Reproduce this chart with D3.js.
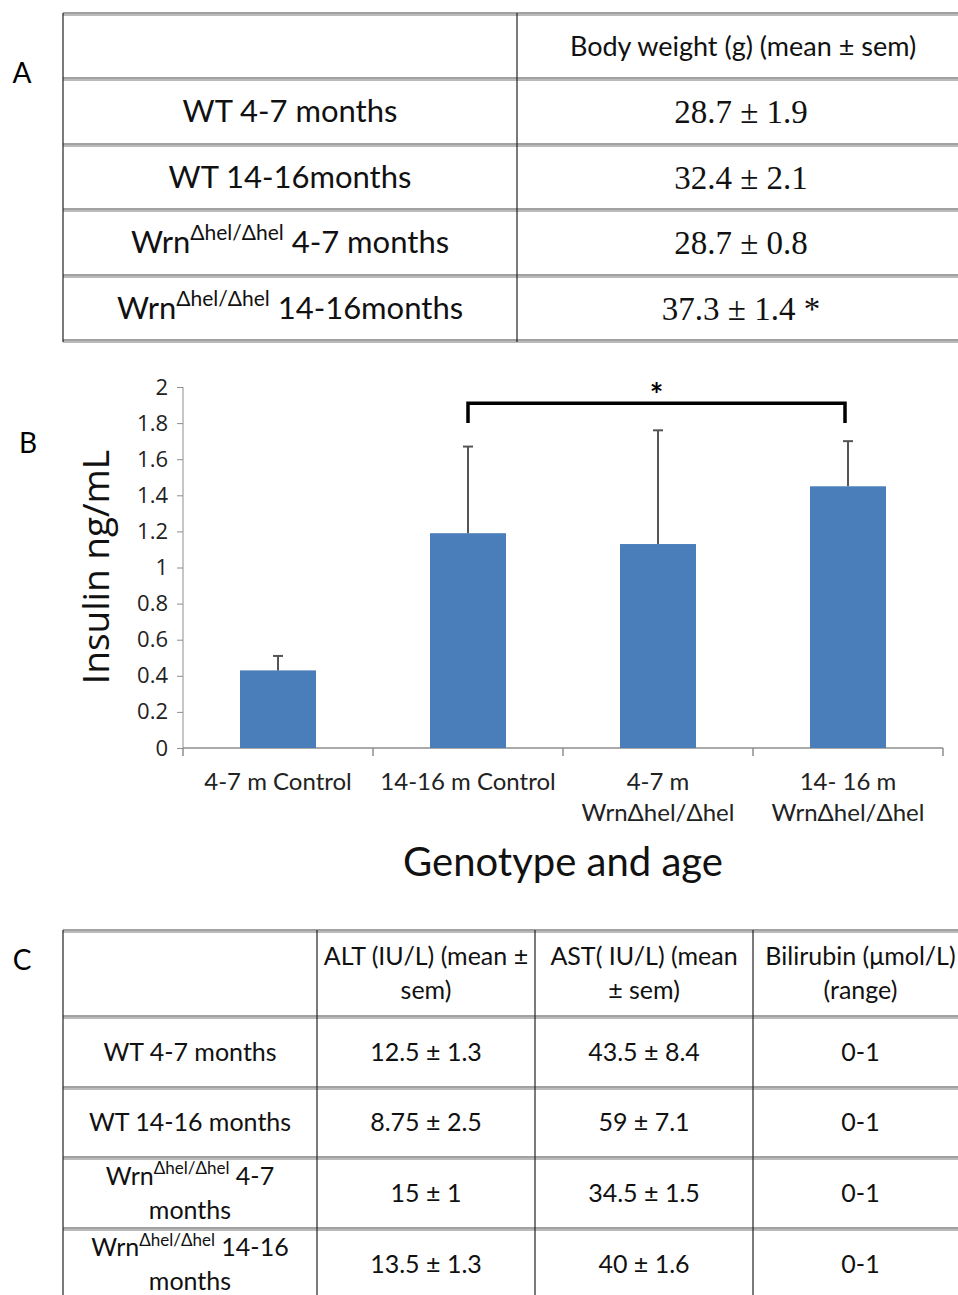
<!DOCTYPE html>
<html>
<head>
<meta charset="utf-8">
<script src="https://cdn.jsdelivr.net/npm/d3@7"></script>
<style>
  body { margin: 0; background: #fff; }
  svg { display: block; }
</style>
</head>
<body>
<svg id="fig" width="958" height="1295"></svg>
<script>
// ---- data ----
// {..} marks superscript text
var groupsA = ["WT 4-7 months", "WT 14-16months", "Wrn{Δhel/Δhel} 4-7 months", "Wrn{Δhel/Δhel} 14-16months"];
var headerA = "Body weight (g) (mean ± sem)";
var bodyWeight = ["28.7 ± 1.9", "32.4 ± 2.1", "28.7 ± 0.8", "37.3 ± 1.4 *"];

var categories = [["4-7 m Control"], ["14-16 m Control"], ["4-7 m", "WrnΔhel/Δhel"], ["14- 16 m", "WrnΔhel/Δhel"]];
var insulin = [0.43, 1.19, 1.13, 1.45];
var insulinSem = [0.08, 0.48, 0.63, 0.25];
var yTicks = [0, 0.2, 0.4, 0.6, 0.8, 1, 1.2, 1.4, 1.6, 1.8, 2];
var bracket = {from: 1, to: 3, level: 1.91, drop: 0.11, label: "*"};

var headerC = [[""], ["ALT (IU/L) (mean ±", "sem)"], ["AST( IU/L)  (mean", "± sem)"], ["Bilirubin (μmol/L)", "(range)"]];
var groupsC = [["WT 4-7 months"], ["WT 14-16 months"], ["Wrn{Δhel/Δhel} 4-7", "months"], ["Wrn{Δhel/Δhel} 14-16", "months"]];
var alt = ["12.5 ± 1.3", "8.75 ± 2.5", "15 ± 1", "13.5 ± 1.3"];
var ast = ["43.5 ± 8.4", "59 ± 7.1", "34.5 ± 1.5", "40 ± 1.6"];
var bilirubin = ["0-1", "0-1", "0-1", "0-1"];

var svg = d3.select('#fig');
var sans = "Lato, 'Open Sans', sans-serif";

// writes a string with {sup} parts into a text element
var richText = function(sel, str, supSize) {
  var parts = str.split(/(\{[^}]*\})/).filter(function(p){return p.length;});
  var shift = 0;
  parts.forEach(function(p) {
    if (p[0] == '{') {
      sel.append('tspan').attr('dy', -supSize * 0.6).attr('font-size', supSize).text(p.slice(1, -1));
      shift = supSize * 0.6;
    } else {
      sel.append('tspan').attr('dy', shift).text(p);
      shift = 0;
    }
  });
};

var hline = function(g, x1, x2, y) {
  g.append('line').attr('x1', x1).attr('x2', x2).attr('y1', y).attr('y2', y)
    .attr('stroke', '#444').attr('stroke-width', 1);
  g.append('line').attr('x1', x1).attr('x2', x2).attr('y1', y + 2).attr('y2', y + 2)
    .attr('stroke', '#777').attr('stroke-width', 1);
};
var vline = function(g, x, y1, y2) {
  g.append('line').attr('x1', x).attr('x2', x).attr('y1', y1).attr('y2', y2)
    .attr('stroke', '#222').attr('stroke-width', 1.2);
};

// ---- panel A ----
var tA = svg.append('g');
var rowsA = [13, 78, 144, 209, 275, 340];
rowsA.forEach(function(y){ hline(tA, 63, 958, y); });
vline(tA, 63, 13, 342);
vline(tA, 517, 13, 342);

svg.append('text').attr('x', 22).attr('y', 83).attr('text-anchor', 'middle')
  .attr('font-family', sans).attr('font-size', 28).text('A');

tA.append('text').attr('x', 743).attr('y', 56).attr('text-anchor', 'middle')
  .attr('font-family', sans).attr('font-size', 27).attr('fill', '#111').text(headerA);

tA.selectAll('text.lab').data(groupsA).enter().append('text')
  .attr('class', 'lab')
  .attr('x', 290)
  .attr('y', function(d, i){ return (rowsA[i + 1] + rowsA[i + 2]) / 2 + 11; })
  .attr('text-anchor', 'middle')
  .attr('font-family', sans).attr('font-size', 31).attr('fill', '#111')
  .each(function(d){ richText(d3.select(this), d, 21); });

tA.selectAll('text.val').data(bodyWeight).enter().append('text')
  .attr('class', 'val')
  .attr('x', 741)
  .attr('y', function(d, i){ return (rowsA[i + 1] + rowsA[i + 2]) / 2 + 12; })
  .attr('text-anchor', 'middle')
  .attr('font-family', "'Liberation Serif', serif").attr('font-size', 33).attr('fill', '#111')
  .text(function(d){ return d; });

// ---- panel B ----
svg.append('text').attr('x', 28).attr('y', 453).attr('text-anchor', 'middle')
  .attr('font-family', sans).attr('font-size', 28).text('B');

var chart = svg.append('g');
var x = d3.scaleBand().domain(d3.range(categories.length)).range([183, 943])
  .paddingInner(0.6).paddingOuter(0.3);
var y = d3.scaleLinear().domain([0, 2]).range([748, 387]);
var axisColor = '#8e8e8e';

var yAxis = chart.append('g').attr('transform', 'translate(183,0)')
  .call(d3.axisLeft(y).tickValues(yTicks).tickSize(6).tickPadding(9).tickFormat(d3.format('~g')));
yAxis.selectAll('path, line').attr('stroke', axisColor);
yAxis.select('.domain').attr('d', 'M0,' + y(0) + 'V' + y(2));
yAxis.selectAll('text').attr('font-family', "'Open Sans', sans-serif").attr('font-size', 22).attr('fill', '#222');

// x axis with ticks between categories
var half = (x.step() - x.bandwidth()) / 2;
var xb = categories.map(function(d, i){ return x(i) - half; }).concat([x(categories.length - 1) + x.bandwidth() + half]);
chart.append('line').attr('x1', 183).attr('x2', xb[xb.length - 1]).attr('y1', y(0)).attr('y2', y(0))
  .attr('stroke', axisColor).attr('stroke-width', 1.5);
chart.selectAll('line.xt').data(xb).enter().append('line').attr('class', 'xt')
  .attr('x1', function(d){ return d; }).attr('x2', function(d){ return d; })
  .attr('y1', y(0)).attr('y2', y(0) + 8).attr('stroke', axisColor).attr('stroke-width', 1.5);

chart.selectAll('rect.bar').data(insulin).enter().append('rect').attr('class', 'bar')
  .attr('x', function(d, i){ return x(i); })
  .attr('width', x.bandwidth())
  .attr('y', function(d){ return y(d); })
  .attr('height', function(d){ return y(0) - y(d); })
  .attr('fill', '#4a7ebb');

var err = chart.selectAll('g.err').data(insulin).enter().append('g').attr('class', 'err');
err.append('line')
  .attr('x1', function(d, i){ return x(i) + x.bandwidth() / 2; })
  .attr('x2', function(d, i){ return x(i) + x.bandwidth() / 2; })
  .attr('y1', function(d){ return y(d); })
  .attr('y2', function(d, i){ return y(d + insulinSem[i]); })
  .attr('stroke', '#555').attr('stroke-width', 2);
err.append('line')
  .attr('x1', function(d, i){ return x(i) + x.bandwidth() / 2 - 5; })
  .attr('x2', function(d, i){ return x(i) + x.bandwidth() / 2 + 5; })
  .attr('y1', function(d, i){ return y(d + insulinSem[i]); })
  .attr('y2', function(d, i){ return y(d + insulinSem[i]); })
  .attr('stroke', '#555').attr('stroke-width', 2);

var bx1 = x(bracket.from) + x.bandwidth() / 2, bx2 = x(bracket.to) + x.bandwidth() / 2 - 3;
chart.append('path')
  .attr('d', 'M' + bx1 + ',' + y(bracket.level - bracket.drop) + 'V' + y(bracket.level) + 'H' + bx2 + 'V' + y(bracket.level - bracket.drop))
  .attr('fill', 'none').attr('stroke', '#000').attr('stroke-width', 3.5);
chart.append('text').attr('x', (bx1 + bx2) / 2).attr('y', y(bracket.level) + 4)
  .attr('text-anchor', 'middle').attr('font-family', sans).attr('font-weight', 'bold').attr('font-size', 32)
  .text(bracket.label);

chart.selectAll('text.cat').data(categories).enter().append('text').attr('class', 'cat')
  .attr('text-anchor', 'middle').attr('font-family', sans).attr('font-size', 24).attr('fill', '#222')
  .each(function(d, i){
    var t = d3.select(this);
    d.forEach(function(line, k){
      t.append('tspan').attr('x', x(i) + x.bandwidth() / 2).attr('y', 790 + k * 31).text(line);
    });
  });

chart.append('text').attr('transform', 'translate(109,567) rotate(-90)').attr('text-anchor', 'middle')
  .attr('font-family', "'Open Sans', sans-serif").attr('font-size', 37).attr('fill', '#111')
  .text('Insulin ng/mL');
chart.append('text').attr('x', 563).attr('y', 876).attr('text-anchor', 'middle')
  .attr('font-family', sans).attr('font-size', 40).attr('fill', '#111')
  .text('Genotype and age');

// ---- panel C ----
svg.append('text').attr('x', 22).attr('y', 970).attr('text-anchor', 'middle')
  .attr('font-family', sans).attr('font-size', 28).text('C');

var tC = svg.append('g');
var rowsC = [930, 1016, 1087, 1157, 1228, 1300];
var colsC = [63, 317, 535, 753, 968];
rowsC.slice(0, 5).forEach(function(y){ hline(tC, 63, 958, y); });
colsC.slice(0, 4).forEach(function(x){ vline(tC, x, 930, 1295); });

var cellText = function(lines, cx, cy) {
  var t = tC.append('text').attr('text-anchor', 'middle')
    .attr('font-family', sans).attr('font-size', 25).attr('fill', '#111');
  var y0 = cy + 9 - (lines.length - 1) * 17;
  lines.forEach(function(line, k){
    var ts = t.append('tspan').attr('x', cx).attr('y', y0 + k * 34);
    richText(ts, line, 17);
  });
};

headerC.forEach(function(h, j){ cellText(h, (colsC[j] + colsC[j + 1]) / 2, (rowsC[0] + rowsC[1]) / 2); });
groupsC.forEach(function(g, i){
  var cy = (rowsC[i + 1] + rowsC[i + 2]) / 2;
  cellText(g, (colsC[0] + colsC[1]) / 2, cy);
  cellText([alt[i]], (colsC[1] + colsC[2]) / 2, cy);
  cellText([ast[i]], (colsC[2] + colsC[3]) / 2, cy);
  cellText([bilirubin[i]], (colsC[3] + colsC[4]) / 2, cy);
});
</script>
</body>
</html>
